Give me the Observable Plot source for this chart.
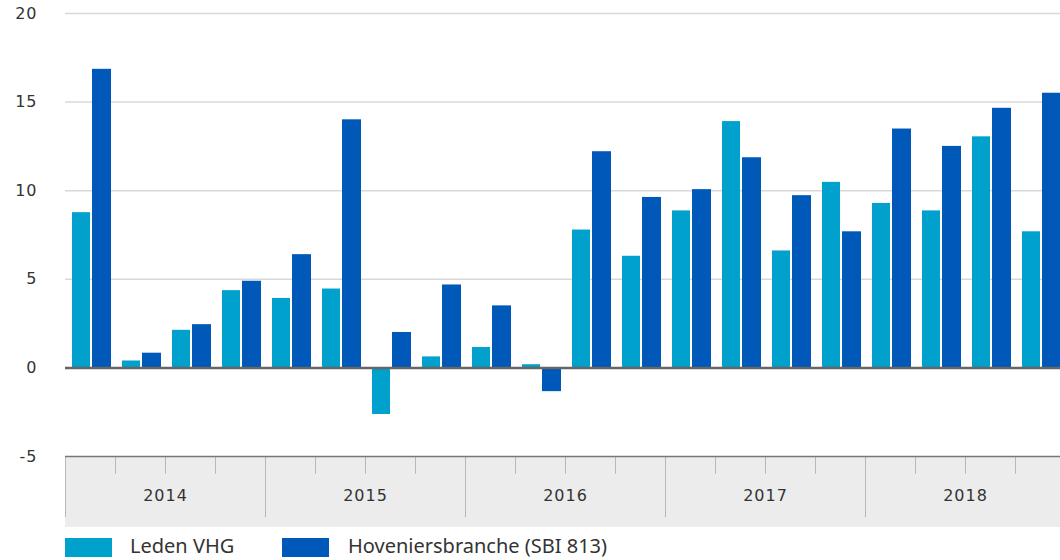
<!DOCTYPE html>
<html>
<head>
<meta charset="utf-8">
<script src="https://cdn.jsdelivr.net/npm/d3@7"></script>
<script src="https://cdn.jsdelivr.net/npm/@observablehq/plot@0.6"></script>
<style>
  html, body { margin: 0; padding: 0; background: #fff; overflow: hidden; width: 1060px; height: 560px; }
  #chart { position: absolute; left: 0; top: 0; }
  #chart svg text { letter-spacing: 1px; }
  #legend { position: absolute; left: 0; top: 538px; height: 20px; font-family: "Noto Sans", sans-serif; font-size: 20px; color: #333; }
  .sw { position: absolute; top: 0; width: 47px; height: 19px; }
  .lb { position: absolute; top: -6px; white-space: nowrap; }
</style>
</head>
<body>
<div id="chart"></div>
<div id="legend"></div>
<script>
// Data
const years = [2014, 2015, 2016, 2017, 2018];
const quarters = ["Q1", "Q2", "Q3", "Q4"];
const ledenVHG = [8.76, 0.39, 2.12, 4.36, 3.92, 4.45, -2.63, 0.62, 1.15, 0.18, 7.78, 6.3, 8.86, 13.9, 6.6, 10.47, 9.28, 8.86, 13.04, 7.68];
const hoveniers = [16.85, 0.83, 2.44, 4.89, 6.39, 14.0, 2.0, 4.68, 3.5, -1.34, 12.2, 9.62, 10.06, 11.86, 9.72, 7.68, 13.48, 12.5, 14.65, 15.5];
const yTicks = [-5, 0, 5, 10, 15, 20];
const seriesNames = ["Leden VHG", "Hoveniersbranche (SBI 813)"];
const colors = ["#00a1cd", "#0058b8"];

const table = [];
years.forEach((yr, i) => quarters.forEach((q, j) => {
  const k = i * 4 + j;
  table.push({year: yr, quarter: q, leden: ledenVHG[k], hov: hoveniers[k]});
}));

const chart = Plot.plot({
  width: 1065,
  height: 528,
  marginLeft: 65,
  marginRight: 0,
  marginTop: 13,
  marginBottom: 72,
  style: {maxWidth: "none", overflow: "hidden", fontFamily: "DejaVu Sans, sans-serif", fontSize: "16px", color: "#333", background: "transparent"},
  facet: {data: table, x: "year"},
  fx: {domain: years, padding: 0, axis: null, label: null},
  x: {domain: quarters, padding: 0, axis: null},
  y: {domain: [-5, 20], ticks: yTicks, tickSize: 0, tickPadding: 28, label: null, tickFormat: d => String(d)},
  marks: [
    Plot.rect([0], {y1: -5, y2: -9.0, fill: "#ececec"}),
    Plot.ruleY(yTicks.filter(d => d > 0), {stroke: "#d8d8d8", strokeWidth: 1.5}),
    Plot.ruleX(["Q1"], {x: d => d, dx: -25, y1: -5, y2: -8.45, stroke: "#b8b8b8"}),
    Plot.ruleX(["Q2", "Q3", "Q4"], {x: d => d, dx: -25, y1: -5, y2: -6, stroke: "#b8b8b8"}),
    Plot.ruleY([-5], {stroke: "#777", strokeWidth: 1.5}),
    Plot.text(table, Plot.selectFirst({text: d => String(d.year), y: -7.2, fill: "#333", fontSize: 16})),
    Plot.barY(table, {x: "quarter", y: "leden", fill: colors[0], insetLeft: 7, insetRight: 25}),
    Plot.barY(table, {x: "quarter", y: "hov", fill: colors[1], insetLeft: 27, insetRight: 4}),
    Plot.ruleY([0], {stroke: "#666", strokeWidth: 2.5})
  ]
});
document.getElementById("chart").appendChild(chart);

// Legend
const legend = document.getElementById("legend");
const swX = [65, 282], lbX = [130, 348];
seriesNames.forEach((name, i) => {
  const sw = document.createElement("div");
  sw.className = "sw"; sw.style.left = swX[i] + "px"; sw.style.background = colors[i];
  const lb = document.createElement("div");
  lb.className = "lb"; lb.style.left = lbX[i] + "px"; lb.textContent = name;
  legend.appendChild(sw); legend.appendChild(lb);
});
</script>
</body>
</html>
